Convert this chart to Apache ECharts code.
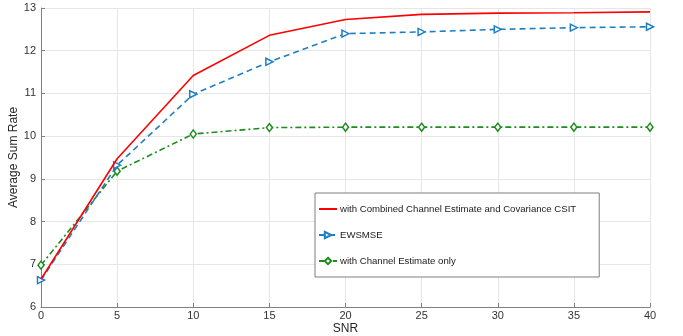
<!DOCTYPE html>
<html><head><meta charset="utf-8">
<script src="https://cdn.jsdelivr.net/npm/echarts@6/dist/echarts.min.js"></script>
<style>html,body{margin:0;padding:0;background:#fff}#c{width:683px;height:336px}</style>
</head><body><div id="c"></div>
<script>
const snr = [0, 5, 10, 15, 20, 25, 30, 35, 40];
const combined = [6.65, 9.47, 11.42, 12.36, 12.73, 12.85, 12.88, 12.89, 12.91];
const ewsmse = [6.63, 9.32, 10.98, 11.74, 12.40, 12.44, 12.50, 12.54, 12.56];
const channelOnly = [6.98, 9.18, 10.05, 10.20, 10.21, 10.21, 10.21, 10.21, 10.21];
const names = ['with Combined Channel Estimate and Covariance CSIT', 'EWSMSE', 'with Channel Estimate only'];

const pairs = a => snr.map((x, i) => [x, a[i]]);
const font = 'Liberation Sans, Arial, Helvetica, sans-serif';
const chart = echarts.init(document.getElementById('c'), null, {renderer: 'canvas'});
chart.setOption({
  animation: false,
  textStyle: {fontFamily: font},
  grid: {left: 41, right: 33, top: 8, bottom: 29, containLabel: false, outerBoundsMode: 'none'},
  xAxis: {
    type: 'value', min: 0, max: 40, interval: 5,
    name: 'SNR', nameLocation: 'middle', nameGap: 16, nameMoveOverlap: false,
    nameTextStyle: {fontSize: 12, color: '#262626', fontFamily: font},
    axisLine: {show: true, lineStyle: {color: '#808080', width: 1}},
    axisTick: {show: true, inside: true, length: 4, lineStyle: {color: '#808080'}},
    axisLabel: {fontSize: 11, color: '#333', margin: 3, fontFamily: font},
    splitLine: {show: true, lineStyle: {color: '#e6e6e6', width: 1}}
  },
  yAxis: {
    type: 'value', min: 6, max: 13, interval: 1,
    name: 'Average Sum Rate', nameLocation: 'middle', nameGap: 21, nameRotate: 90, nameMoveOverlap: false,
    nameTextStyle: {fontSize: 12, color: '#262626', fontFamily: font},
    axisLine: {show: true, lineStyle: {color: '#808080', width: 1}},
    axisTick: {show: true, inside: true, length: 4, lineStyle: {color: '#808080'}},
    axisLabel: {fontSize: 11, color: '#333', margin: 5, fontFamily: font},
    splitLine: {show: true, lineStyle: {color: '#e6e6e6', width: 1}}
  },
  legend: {
    orient: 'vertical', left: 315, top: 193,
    itemWidth: 18, itemHeight: 8, itemGap: 16,
    padding: [11, 23, 11, 3],
    borderColor: '#7f7f7f', borderWidth: 1, backgroundColor: '#fff',
    textStyle: {fontSize: 9.6, color: '#1a1a1a', fontFamily: font, padding: [0, 0, 0, -2]},
    data: names
  },
  series: [
    {
      name: names[0], type: 'line', data: pairs(combined), showSymbol: false, symbol: 'none',
      lineStyle: {color: '#ff0000', width: 1.6}, itemStyle: {color: 'rgba(0,0,0,0)'}, z: 5
    },
    {
      name: names[1], type: 'line', data: pairs(ewsmse),
      symbol: 'triangle', symbolSize: 7, symbolRotate: -90,
      lineStyle: {color: '#1f7fc6', width: 1.6, type: [6, 4]},
      itemStyle: {color: '#fff', borderColor: '#1f7fc6', borderWidth: 1.5}, z: 4
    },
    {
      name: names[2], type: 'line', data: pairs(channelOnly),
      symbol: 'diamond', symbolSize: [6, 8],
      lineStyle: {color: '#1e8c1e', width: 1.6, type: [6, 3, 2, 3]},
      itemStyle: {color: '#fff', borderColor: '#1e8c1e', borderWidth: 1.5}, z: 3
    }
  ]
});
</script></body></html>
